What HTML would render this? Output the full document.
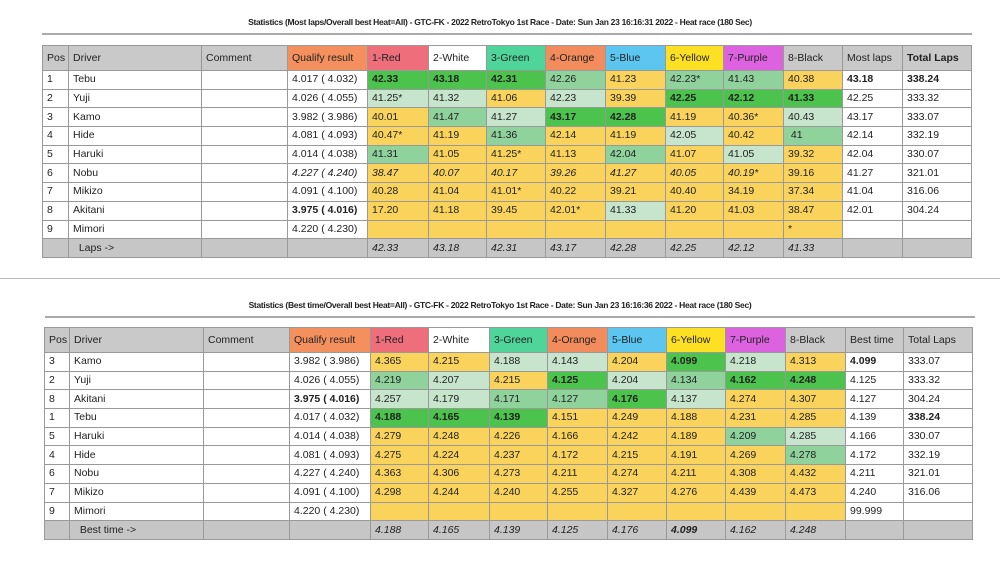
<!DOCTYPE html>
<html><head><meta charset="utf-8"><style>
body{margin:0;width:1000px;height:572px;background:#fff;position:relative;overflow:hidden;font-family:"Liberation Sans",sans-serif;}
.title{position:absolute;left:0;width:1000px;text-align:center;font-size:8.5px;font-weight:bold;color:#222;letter-spacing:-0.3px}
.hr{position:absolute;height:2px;background:#aaa}
table{position:absolute;border-collapse:collapse;table-layout:fixed;font-size:10.5px;color:#222}
td{border:1px solid #999;padding:0 0 0 4px;white-space:nowrap;overflow:hidden;height:17.7px;line-height:17px}
tr.h td{height:24px;background:#c9c9c9}
tr.f td{background:#c6c6c6;font-style:italic}
.Y{background:#f9d35c}.G{background:#4cc34c;font-weight:bold}.M{background:#8fd29c}.L{background:#c7e4cd}
.hq{background:#f3905e!important}.hr1{background:#ee6e7c!important}.hw{background:#fff!important}.hg{background:#4fd49a!important}.ho{background:#f28c5c!important}.hb{background:#5cc6f0!important}.hy{background:#fde024!important}.hp{background:#dc62e0!important}
b{font-weight:bold}
i{font-style:italic}
</style></head><body>
<div class="title" style="top:17px">Statistics (Most laps/Overall best Heat=All) - GTC-FK - 2022 RetroTokyo 1st Race - Date: Sun Jan 23 16:16:31 2022 - Heat race (180 Sec)</div>
<div class="hr" style="left:42px;width:930px;top:33px"></div>
<table style="left:42px;top:45px;width:929px">
<colgroup><col style="width:26px"><col style="width:133px"><col style="width:86px"><col style="width:80px"><col style="width:61px"><col style="width:58px"><col style="width:59px"><col style="width:60px"><col style="width:60px"><col style="width:58px"><col style="width:60px"><col style="width:59px"><col style="width:60px"><col style="width:69px"></colgroup>
<tr class="h"><td>Pos</td><td>Driver</td><td>Comment</td><td class="hq">Qualify result</td><td class="hr1">1-Red</td><td class="hw">2-White</td><td class="hg">3-Green</td><td class="ho">4-Orange</td><td class="hb">5-Blue</td><td class="hy">6-Yellow</td><td class="hp">7-Purple</td><td>8-Black</td><td>Most laps</td><td><b>Total Laps</b></td></tr>
<tr><td>1</td><td>Tebu</td><td></td><td>4.017 ( 4.032)</td><td class="G">42.33</td><td class="G">43.18</td><td class="G">42.31</td><td class="M">42.26</td><td class="Y">41.23</td><td class="M">42.23*</td><td class="M">41.43</td><td class="Y">40.38</td><td><b>43.18</b></td><td><b>338.24</b></td></tr>
<tr><td>2</td><td>Yuji</td><td></td><td>4.026 ( 4.055)</td><td class="L">41.25*</td><td class="L">41.32</td><td class="Y">41.06</td><td class="L">42.23</td><td class="Y">39.39</td><td class="G">42.25</td><td class="G">42.12</td><td class="G">41.33</td><td>42.25</td><td>333.32</td></tr>
<tr><td>3</td><td>Kamo</td><td></td><td>3.982 ( 3.986)</td><td class="Y">40.01</td><td class="M">41.47</td><td class="L">41.27</td><td class="G">43.17</td><td class="G">42.28</td><td class="Y">41.19</td><td class="Y">40.36*</td><td class="L">40.43</td><td>43.17</td><td>333.07</td></tr>
<tr><td>4</td><td>Hide</td><td></td><td>4.081 ( 4.093)</td><td class="Y">40.47*</td><td class="Y">41.19</td><td class="M">41.36</td><td class="Y">42.14</td><td class="Y">41.19</td><td class="L">42.05</td><td class="Y">40.42</td><td class="M">&nbsp;41</td><td>42.14</td><td>332.19</td></tr>
<tr><td>5</td><td>Haruki</td><td></td><td>4.014 ( 4.038)</td><td class="M">41.31</td><td class="Y">41.05</td><td class="Y">41.25*</td><td class="Y">41.13</td><td class="M">42.04</td><td class="Y">41.07</td><td class="L">41.05</td><td class="Y">39.32</td><td>42.04</td><td>330.07</td></tr>
<tr><td>6</td><td>Nobu</td><td></td><td><i>4.227 ( 4.240)</i></td><td class="Y"><i>38.47</i></td><td class="Y"><i>40.07</i></td><td class="Y"><i>40.17</i></td><td class="Y"><i>39.26</i></td><td class="Y"><i>41.27</i></td><td class="Y"><i>40.05</i></td><td class="Y"><i>40.19*</i></td><td class="Y">39.16</td><td>41.27</td><td>321.01</td></tr>
<tr><td>7</td><td>Mikizo</td><td></td><td>4.091 ( 4.100)</td><td class="Y">40.28</td><td class="Y">41.04</td><td class="Y">41.01*</td><td class="Y">40.22</td><td class="Y">39.21</td><td class="Y">40.40</td><td class="Y">34.19</td><td class="Y">37.34</td><td>41.04</td><td>316.06</td></tr>
<tr><td>8</td><td>Akitani</td><td></td><td><b>3.975 ( 4.016)</b></td><td class="Y">17.20</td><td class="Y">41.18</td><td class="Y">39.45</td><td class="Y">42.01*</td><td class="L">41.33</td><td class="Y">41.20</td><td class="Y">41.03</td><td class="Y">38.47</td><td>42.01</td><td>304.24</td></tr>
<tr><td>9</td><td>Mimori</td><td></td><td>4.220 ( 4.230)</td><td class="Y"></td><td class="Y"></td><td class="Y"></td><td class="Y"></td><td class="Y"></td><td class="Y"></td><td class="Y"></td><td class="Y">*</td><td></td><td></td></tr>
<tr class="f"><td></td><td style="font-style:normal">&nbsp;&nbsp;Laps -&gt;</td><td></td><td></td><td>42.33</td><td>43.18</td><td>42.31</td><td>43.17</td><td>42.28</td><td>42.25</td><td>42.12</td><td>41.33</td><td></td><td></td></tr>
</table>
<div class="hr" style="left:0;width:1000px;top:278px;height:1px;background:#bbb"></div>
<div class="title" style="top:300px">Statistics (Best time/Overall best Heat=All) - GTC-FK - 2022 RetroTokyo 1st Race - Date: Sun Jan 23 16:16:36 2022 - Heat race (180 Sec)</div>
<div class="hr" style="left:45px;width:930px;top:316px"></div>
<table style="left:44px;top:327px;width:928px">
<colgroup><col style="width:25px"><col style="width:134px"><col style="width:86px"><col style="width:81px"><col style="width:58px"><col style="width:61px"><col style="width:58px"><col style="width:60px"><col style="width:59px"><col style="width:59px"><col style="width:60px"><col style="width:60px"><col style="width:58px"><col style="width:69px"></colgroup>
<tr class="h"><td>Pos</td><td>Driver</td><td>Comment</td><td class="hq">Qualify result</td><td class="hr1">1-Red</td><td class="hw">2-White</td><td class="hg">3-Green</td><td class="ho">4-Orange</td><td class="hb">5-Blue</td><td class="hy">6-Yellow</td><td class="hp">7-Purple</td><td>8-Black</td><td>Best time</td><td>Total Laps</td></tr>
<tr><td>3</td><td>Kamo</td><td></td><td>3.982 ( 3.986)</td><td class="Y">4.365</td><td class="Y">4.215</td><td class="L">4.188</td><td class="L">4.143</td><td class="Y">4.204</td><td class="G">4.099</td><td class="L">4.218</td><td class="Y">4.313</td><td><b>4.099</b></td><td>333.07</td></tr>
<tr><td>2</td><td>Yuji</td><td></td><td>4.026 ( 4.055)</td><td class="M">4.219</td><td class="L">4.207</td><td class="Y">4.215</td><td class="G">4.125</td><td class="L">4.204</td><td class="M">4.134</td><td class="G">4.162</td><td class="G">4.248</td><td>4.125</td><td>333.32</td></tr>
<tr><td>8</td><td>Akitani</td><td></td><td><b>3.975 ( 4.016)</b></td><td class="L">4.257</td><td class="L">4.179</td><td class="M">4.171</td><td class="M">4.127</td><td class="G">4.176</td><td class="L">4.137</td><td class="Y">4.274</td><td class="Y">4.307</td><td>4.127</td><td>304.24</td></tr>
<tr><td>1</td><td>Tebu</td><td></td><td>4.017 ( 4.032)</td><td class="G">4.188</td><td class="G">4.165</td><td class="G">4.139</td><td class="Y">4.151</td><td class="Y">4.249</td><td class="Y">4.188</td><td class="Y">4.231</td><td class="Y">4.285</td><td>4.139</td><td><b>338.24</b></td></tr>
<tr><td>5</td><td>Haruki</td><td></td><td>4.014 ( 4.038)</td><td class="Y">4.279</td><td class="Y">4.248</td><td class="Y">4.226</td><td class="Y">4.166</td><td class="Y">4.242</td><td class="Y">4.189</td><td class="M">4.209</td><td class="L">4.285</td><td>4.166</td><td>330.07</td></tr>
<tr><td>4</td><td>Hide</td><td></td><td>4.081 ( 4.093)</td><td class="Y">4.275</td><td class="Y">4.224</td><td class="Y">4.237</td><td class="Y">4.172</td><td class="Y">4.215</td><td class="Y">4.191</td><td class="Y">4.269</td><td class="M">4.278</td><td>4.172</td><td>332.19</td></tr>
<tr><td>6</td><td>Nobu</td><td></td><td>4.227 ( 4.240)</td><td class="Y">4.363</td><td class="Y">4.306</td><td class="Y">4.273</td><td class="Y">4.211</td><td class="Y">4.274</td><td class="Y">4.211</td><td class="Y">4.308</td><td class="Y">4.432</td><td>4.211</td><td>321.01</td></tr>
<tr><td>7</td><td>Mikizo</td><td></td><td>4.091 ( 4.100)</td><td class="Y">4.298</td><td class="Y">4.244</td><td class="Y">4.240</td><td class="Y">4.255</td><td class="Y">4.327</td><td class="Y">4.276</td><td class="Y">4.439</td><td class="Y">4.473</td><td>4.240</td><td>316.06</td></tr>
<tr><td>9</td><td>Mimori</td><td></td><td>4.220 ( 4.230)</td><td class="Y"></td><td class="Y"></td><td class="Y"></td><td class="Y"></td><td class="Y"></td><td class="Y"></td><td class="Y"></td><td class="Y"></td><td>99.999</td><td></td></tr>
<tr class="f"><td></td><td style="font-style:normal">&nbsp;&nbsp;Best time -&gt;</td><td></td><td></td><td>4.188</td><td>4.165</td><td>4.139</td><td>4.125</td><td>4.176</td><td><b>4.099</b></td><td>4.162</td><td>4.248</td><td></td><td></td></tr>
</table>
</body></html>
